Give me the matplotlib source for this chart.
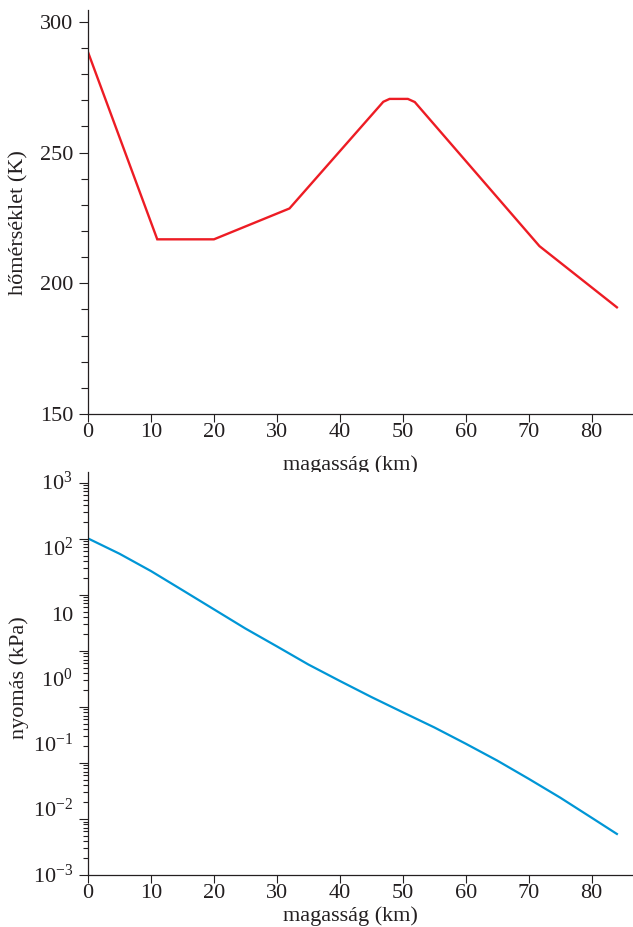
import matplotlib
matplotlib.use("Agg")
import matplotlib.pyplot as plt
from matplotlib import transforms
from matplotlib.ticker import FixedLocator, LogLocator, NullFormatter

plt.rcParams['font.family'] = ['Liberation Serif', 'DejaVu Serif']
plt.rcParams['mathtext.fontset'] = 'custom'
plt.rcParams['mathtext.rm'] = 'Liberation Serif'
plt.rcParams['mathtext.it'] = 'Liberation Serif:italic'
plt.rcParams['mathtext.bf'] = 'Liberation Serif:bold'

# ---- data ----
alt_T = [0, 11, 20, 32, 46.9, 47.9, 50.8, 51.9, 71.7, 84]
temp_K = [288.4, 216.8, 216.8, 228.6, 269.4, 270.5, 270.5, 269.3, 214.2, 190.8]

alt_P = [0, 5, 10, 15, 20, 25, 30, 35, 40, 45, 50, 55, 60, 65, 70, 75, 80, 84]
pres_kPa = [101.3, 54.0, 26.5, 12.1, 5.5, 2.5, 1.2, 0.57, 0.29, 0.15, 0.080,
            0.043, 0.022, 0.011, 0.0052, 0.0024, 0.00105, 0.00054]

x_ticks = [0, 10, 20, 30, 40, 50, 60, 70, 80]
T_major = [150, 200, 250, 300]
T_minor = [160, 170, 180, 190, 210, 220, 230, 240, 260, 270, 280, 290]
P_label_exps = [-3, -2, -1, 0, 1, 2, 3]
P_label_texts = [r'$\mathregular{10^{-3}}$', r'$\mathregular{10^{-2}}$',
                 r'$\mathregular{10^{-1}}$', r'$\mathregular{10^{0}}$', '10',
                 r'$\mathregular{10^{2}}$', r'$\mathregular{10^{3}}$']

xlabel = 'magasság (km)'
ylabel_T = 'hőmérséklet (K)'
ylabel_P = 'nyomás (kPa)'

INK = '#231f20'
RED = '#ed1c24'
BLUE = '#0096d6'
FS = 16

W, H = 633, 927
fig = plt.figure(figsize=(W / 100, H / 100), dpi=100)
ax1 = fig.add_axes([88 / W, 1 - 414 / H, 544 / W, 404 / H])
ax2 = fig.add_axes([88 / W, 1 - 875 / H, 544 / W, 403.3 / H])

for ax in (ax1, ax2):
    for s in ('top', 'right'):
        ax.spines[s].set_visible(False)
    for s in ('left', 'bottom'):
        ax.spines[s].set_linewidth(0.9)
        ax.spines[s].set_color(INK)
    ax.set_xlim(0, 86.4)
    ax.set_xticks(x_ticks)
    ax.tick_params(axis='x', which='major', direction='out', length=5.8,
                   width=0.8, color=INK, labelsize=FS, labelcolor=INK, pad=1)
    ax.set_xlabel(xlabel, fontsize=FS, color=INK)
    ax.xaxis.label.set_va('baseline')

# ---- temperature ----
ax1.plot(alt_T, temp_K, color=RED, lw=1.7, solid_joinstyle='miter')
ax1.set_ylim(150, 304.5)
ax1.yaxis.set_major_locator(FixedLocator(T_major))
ax1.yaxis.set_minor_locator(FixedLocator(T_minor))
ax1.tick_params(axis='y', which='major', direction='out', length=6.4,
                width=0.8, color=INK, labelsize=FS, labelcolor=INK, pad=4.3)
ax1.tick_params(axis='y', which='minor', direction='out', length=4.8,
                width=0.8, color=INK)
ax1.set_ylabel(ylabel_T, fontsize=FS, color=INK)
ax1.yaxis.set_label_coords(-0.1085, 0.475)
ax1.xaxis.set_label_coords(0.4816, -0.1386)

# ---- pressure ----
ax2.plot(alt_P, pres_kPa, color=BLUE, lw=1.6)
ax2.set_yscale('log')
ax2.set_ylim(1e-4, 10 ** 3.196)
ax2.yaxis.set_major_locator(LogLocator(base=10, numticks=20))
ax2.yaxis.set_minor_locator(LogLocator(base=10, subs=range(2, 10), numticks=20))
ax2.yaxis.set_major_formatter(NullFormatter())
ax2.yaxis.set_minor_formatter(NullFormatter())
ax2.tick_params(axis='y', which='major', direction='out', length=6.8,
                width=0.8, color=INK)
ax2.tick_params(axis='y', which='minor', direction='out', length=3.9,
                width=0.8, color=INK)
ax2.set_ylabel(ylabel_P, fontsize=FS, color=INK)
ax2.yaxis.set_label_coords(-0.1085, 0.49)
ax2.xaxis.set_label_coords(0.4816, -0.114)

# decade labels, evenly spread over the axis as in the original figure
lo, hi = -4, 3
n = len(P_label_exps) - 1
blend = transforms.blended_transform_factory(ax2.transAxes, ax2.transData)
lab_tr = transforms.offset_copy(blend, fig=fig, x=-10.8, y=-5.4, units='points')
for i, (e, txt) in enumerate(zip(P_label_exps, P_label_texts)):
    yv = 10 ** (lo + i * (hi - lo) / n)
    ax2.text(0, yv, txt, transform=lab_tr, ha='right', va='baseline',
             fontsize=FS, color=INK)

fig.savefig('out.png', dpi=100)
